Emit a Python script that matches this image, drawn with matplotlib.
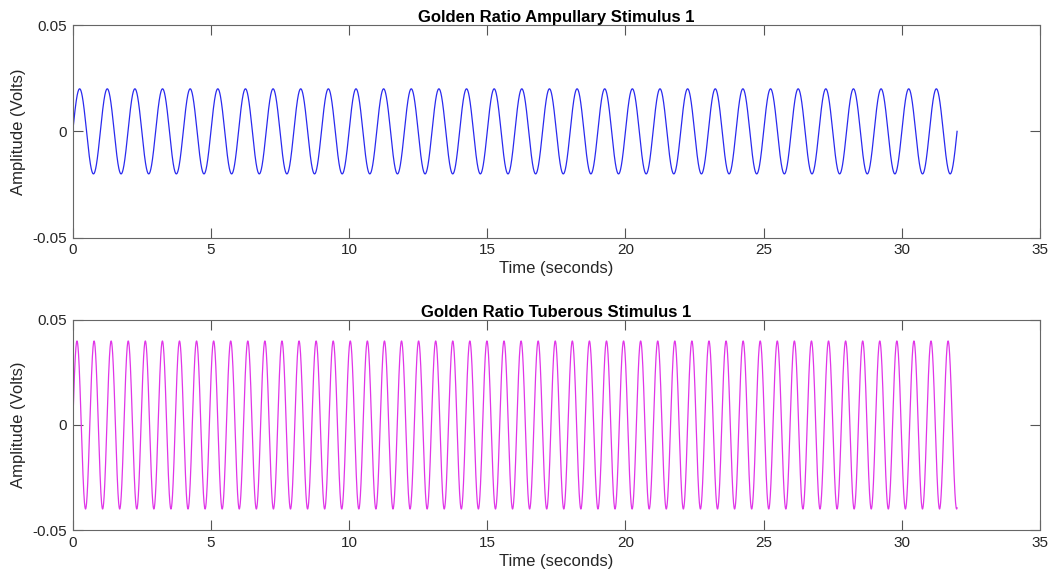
import numpy as np
import matplotlib
matplotlib.use("Agg")
import matplotlib.pyplot as plt

# stimulus parameters
duration = 32.0            # seconds
sample_rate = 2000         # samples per second
ampullary_freq = 1.0       # Hz
ampullary_amp = 0.02       # volts
tuberous_freq = 1.618      # Hz (golden ratio)
tuberous_amp = 0.04        # volts

x_ticks = [0, 5, 10, 15, 20, 25, 30, 35]
y_ticks = [-0.05, 0, 0.05]
y_tick_labels = ["-0.05", "0", "0.05"]
titles = ["Golden Ratio Ampullary Stimulus 1", "Golden Ratio Tuberous Stimulus 1"]

plt.rcParams['font.family'] = ['Liberation Sans', 'DejaVu Sans']

t = np.arange(0, duration + 1.0 / sample_rate, 1.0 / sample_rate)
ampullary = ampullary_amp * np.sin(2 * np.pi * ampullary_freq * t)
tuberous = tuberous_amp * np.sin(2 * np.pi * tuberous_freq * t)

fig = plt.figure(figsize=(10.57, 5.71), dpi=100)
ax1 = fig.add_axes([0.0688, 0.5837, 0.9151, 0.3725])
ax2 = fig.add_axes([0.0688, 0.0718, 0.9151, 0.3678])

for ax, sig, color, title in [(ax1, ampullary, "#2a2aee", titles[0]),
                              (ax2, tuberous, "#e035e8", titles[1])]:
    ax.plot(t, sig, color=color, lw=0.9)
    ax.set_xlim(0, 35)
    ax.set_ylim(-0.05, 0.05)
    ax.set_xticks(x_ticks)
    ax.set_yticks(y_ticks)
    ax.set_yticklabels(y_tick_labels)
    ax.tick_params(direction="in", top=True, right=True, length=7, width=0.8,
                   color="#555555", labelsize=11, labelcolor="#262626", pad=4)
    for s in ax.spines.values():
        s.set_color("#666666")
        s.set_linewidth(0.8)
    ax.set_xlabel("Time (seconds)", fontsize=12, color="#262626", labelpad=3)
    ax.set_ylabel("Amplitude (Volts)", fontsize=12, color="#262626", labelpad=5)
    ax.set_title(title, fontsize=12, fontweight="bold", color="black", pad=2)

fig.savefig("out.png", dpi=100)
